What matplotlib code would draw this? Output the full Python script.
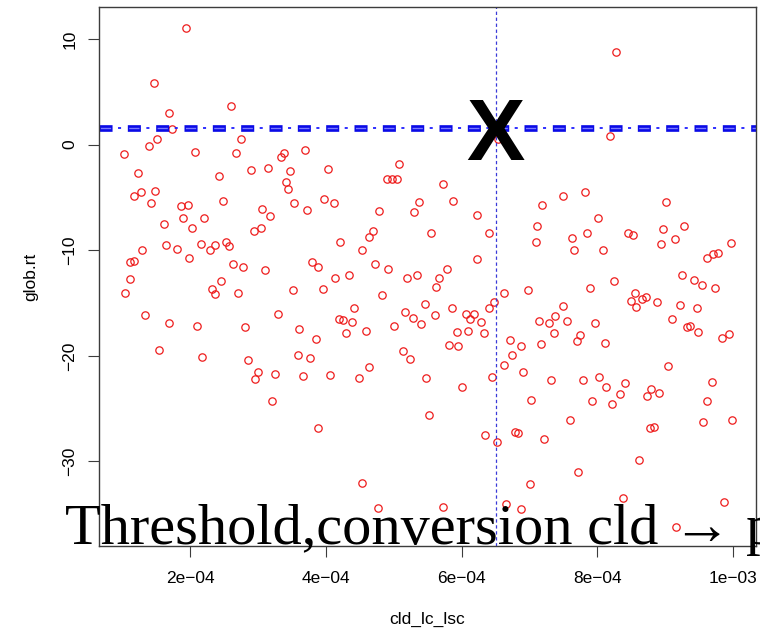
import numpy as np
import matplotlib
matplotlib.use("Agg")
import matplotlib.pyplot as plt

# scatter values
# cld_lc_lsc is kept in units of 1e-4
cld_lc_lsc_e4 = [
    1.94, 1.47, 1.69, 2.61, 1.74, 1.52, 1.39, 2.75, 1.03, 2.08, 2.68, 1.23,
    2.43, 2.90, 3.15, 3.34, 3.38, 3.70, 3.47, 3.42, 3.44, 1.18, 1.28, 1.49,
    1.43, 2.49, 1.86, 1.97, 1.89, 2.21, 1.61, 2.03, 3.06, 3.18, 3.53, 3.73,
    3.97, 3.04, 2.94, 1.30, 1.64, 1.81, 2.16, 2.30, 2.37, 2.53, 2.58, 1.99,
    1.12, 1.18, 2.63, 2.78, 3.11, 3.79, 3.88, 1.11, 2.46,
    4.03, 5.08, 4.90, 4.97, 5.05, 5.72, 4.12, 4.79, 5.37, 5.30, 5.88, 6.22,
    4.69, 4.64, 5.55, 6.40, 4.21, 4.53, 4.73, 4.92, 6.23, 5.78, 4.14, 4.34,
    5.19, 5.34, 5.67, 6.54,
    8.28, 8.19, 7.18, 7.49, 7.82, 7.11, 7.10, 8.01, 7.62, 7.84, 7.65, 8.08,
    8.45, 8.52, 9.01, 8.97, 9.27, 9.14, 8.94, 9.96, 9.61, 9.70, 9.77, 9.24,
    9.42, 8.25,
    1.04, 2.33, 2.37, 2.71, 3.51, 3.96, 1.34, 1.69, 2.10, 2.81, 3.29, 3.61,
    3.85, 1.55, 2.18, 2.85, 3.59, 3.77, 3.00, 2.95, 3.25, 3.66, 3.21, 3.89,
    4.83, 4.41, 4.20, 4.26, 4.39, 4.30, 4.59, 5.01, 5.17, 5.28, 5.40, 5.46,
    5.61, 5.86, 6.06, 6.13, 6.18, 5.93, 6.09, 6.28, 6.33, 6.40, 6.48, 6.63,
    6.97, 5.82, 5.94, 5.14, 5.24, 4.06, 4.49, 4.63, 5.47, 6.01, 6.45, 6.71,
    6.88, 6.74, 6.62, 6.91, 7.14, 7.17, 7.02, 5.52, 6.34, 6.52, 6.79, 6.83,
    7.22, 4.54, 7.01, 4.77, 5.72, 6.66, 6.87, 5.62,
    9.54, 9.73, 7.89, 8.56, 8.49, 8.57, 8.66, 8.71, 8.88, 9.21, 9.46, 9.10,
    9.32, 9.37, 9.48, 9.83, 9.93, 7.49, 7.38, 7.29, 7.55, 7.36, 7.75, 7.70,
    7.96, 8.11, 9.04, 7.31, 7.79, 8.03, 8.13, 7.92, 8.22, 8.33, 8.41, 8.73,
    8.79, 8.90, 9.68, 9.62, 7.59, 8.77, 8.84, 9.56, 9.98, 8.61, 7.71, 8.38,
    9.86, 9.15,
]
glob_rt = [
    11.0, 5.8, 3.0, 3.7, 1.5, 0.5, -0.1, 0.5, -0.9, -0.7, -0.8, -2.7,
    -3.0, -2.4, -2.2, -1.2, -0.8, -0.5, -2.5, -3.5, -4.2, -4.9, -4.5, -4.4,
    -5.5, -5.3, -5.8, -5.7, -6.9, -6.9, -7.5, -7.9, -6.1, -6.8, -5.5, -6.2,
    -5.1, -7.9, -8.2, -10.0, -9.5, -9.9, -9.4, -10.0, -9.5, -9.2, -9.6, -10.7,
    -11.1, -11.0, -11.3, -11.6, -11.9, -11.1, -11.6, -12.7, -12.9,
    -2.3, -1.8, -3.3, -3.3, -3.3, -3.7, -5.5, -6.3, -5.4, -6.4, -5.3, -6.7,
    -8.2, -8.7, -8.4, -8.4, -9.2, -10.0, -11.3, -11.8, -10.8, -11.8, -12.6, -12.3,
    -12.6, -12.3, -12.6, 0.5,
    8.8, 0.8, -5.7, -4.9, -4.5, -7.7, -9.2, -6.9, -8.8, -8.4, -10.0, -10.0,
    -8.4, -8.6, -5.4, -8.0, -7.7, -8.9, -9.4, -9.3, -10.7, -10.4, -10.3, -12.3,
    -12.8, -12.9,
    -14.0, -13.7, -14.1, -14.0, -13.8, -13.7, -16.1, -16.9, -17.2, -17.3, -16.0, -17.5,
    -18.4, -19.4, -20.1, -20.4, -19.9, -20.2, -21.5, -22.2, -21.7, -21.9, -24.3, -26.8,
    -14.2, -15.5, -16.5, -16.6, -16.8, -17.8, -17.6, -17.2, -15.8, -16.4, -17.0, -15.1,
    -16.1, -15.5, -16.0, -16.5, -16.0, -17.7, -17.6, -16.8, -17.8, -15.5, -14.9, -14.0,
    -13.8, -19.0, -19.1, -19.5, -20.3, -21.8, -22.1, -21.1, -22.1, -22.9, -22.0, -18.5,
    -19.1, -19.9, -20.9, -21.5, -16.7, -18.9, -24.2, -25.6, -27.5, -28.2, -27.2, -27.3,
    -27.9, -32.0, -32.1, -34.4, -34.3, -34.0, -34.5, -13.5,
    -13.3, -13.6, -13.6, -14.0, -14.8, -15.4, -14.6, -14.4, -14.9, -15.2, -15.5, -16.5,
    -17.3, -17.2, -17.7, -18.3, -17.9, -15.3, -16.2, -16.9, -16.7, -17.8, -18.0, -18.6,
    -16.9, -18.8, -21.0, -22.3, -22.3, -22.0, -22.9, -24.3, -24.6, -23.6, -22.6, -23.8,
    -23.1, -23.5, -22.5, -24.3, -26.1, -26.8, -26.7, -26.3, -26.1, -29.9, -31.0, -33.5,
    -33.8, -36.2,
]

# the threshold marked by the dashed lines and the big X
threshold_x = 6.5e-4
threshold_y = 1.55

x_ticks = [2e-4, 4e-4, 6e-4, 8e-4, 1e-3]
x_tick_labels = ["2e\u221204", "4e\u221204", "6e\u221204", "8e\u221204", "1e\u221203"]
y_ticks = [-30, -20, -10, 0, 10]
y_tick_labels = ["\u221230", "\u221220", "\u221210", "0", "10"]

plt.rcParams["font.family"] = ["Liberation Sans", "DejaVu Sans"]
plt.rcParams["lines.scale_dashes"] = False

x = np.array(cld_lc_lsc_e4) * 1e-4
y = np.array(glob_rt)

fig = plt.figure(figsize=(7.6, 6.32), dpi=100)
ax = fig.add_axes([0.1303, 0.1361, 0.864, 0.8523])

ax.plot(
    x, y,
    linestyle="none",
    marker="o",
    markersize=5.3,
    markerfacecolor="none",
    markeredgecolor="#ee1c1c",
    markeredgewidth=0.9,
)

# thick blue dashes with small dashes in between, plus the thin vertical line
ax.axhline(threshold_y, color="#0a0ae6", lw=4.8, linestyle=(0, (9.4, 11.0)))
ax.axhline(threshold_y, color="#7a7aff", lw=1.0, linestyle=(19.4, (7.4, 13.0)))
ax.axhline(threshold_y, color="#1f1fff", lw=1.3, linestyle=(6.7, (2.2, 18.2)))
ax.axvline(threshold_x, color="#3a3ad8", lw=0.9, linestyle=(0, (2.4, 1.9)))

ax.annotate(
    "X",
    xy=(threshold_x, threshold_y),
    xytext=(0, -22.7),
    textcoords="offset points",
    ha="center",
    va="baseline",
    fontsize=63,
    fontweight="bold",
)

ax.set_xlim(0.66e-4, 10.33e-4)
ax.set_ylim(-38.0, 13.0)

ax.set_xticks(x_ticks, x_tick_labels)
ax.set_yticks(y_ticks, y_tick_labels)
ax.tick_params(length=7.8, width=0.8, color="#3c3c3c", labelsize=12.5)
ax.tick_params(axis="x", pad=10.4)
ax.tick_params(axis="y", pad=7.7)
plt.setp(ax.get_yticklabels(), rotation=90, va="center")

for spine in ax.spines.values():
    spine.set_color("#3c3c3c")
    spine.set_linewidth(1.0)

ax.set_xlabel("cld_lc_lsc", fontsize=12.5)
ax.set_ylabel("glob.rt", fontsize=12.5)
ax.xaxis.set_label_coords(0.5, -0.1225)
ax.yaxis.set_label_coords(-0.093, 0.5)

fig.text(
    65 / 760, 1 - 543.5 / 632,
    "Threshold,conversion cld \u2192 p",
    family=["Liberation Serif", "DejaVu Serif"],
    fontsize=42,
    va="baseline",
)

fig.savefig("out.png", dpi=100)
